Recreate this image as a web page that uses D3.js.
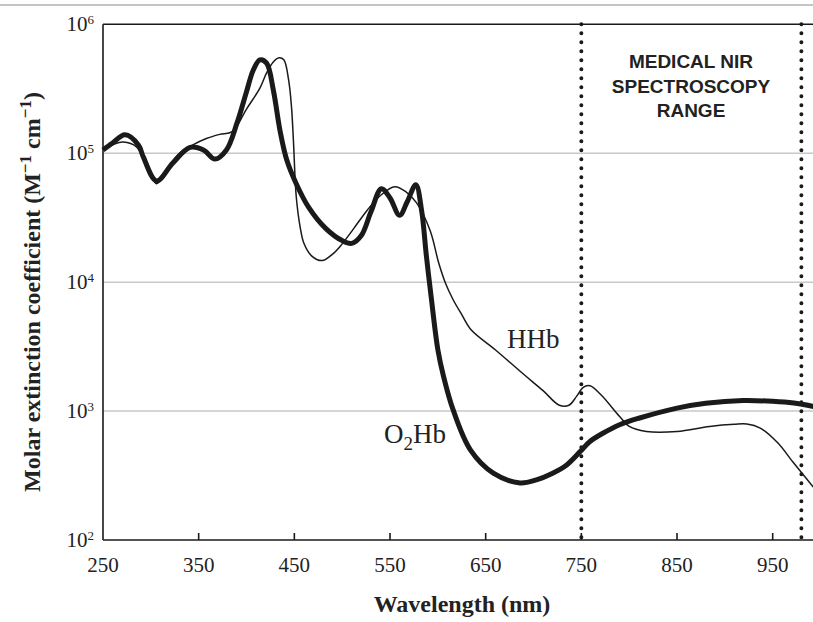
<!DOCTYPE html>
<html>
<head>
<meta charset="utf-8">
<script src="https://cdn.jsdelivr.net/npm/d3@7"></script>
<style>
  body { margin: 0; background: #fff; }
  svg { display: block; }
</style>
</head>
<body>
<div class="svg-container"></div>
<script>
// O2Hb (thick line), wavelength in nm and molar extinction coefficient
const o2hbWl = [250, 260, 273, 287, 292, 306, 323, 341, 355, 367, 379, 390, 400, 407, 414, 421, 428, 435, 442, 452, 465, 483, 500, 510, 520, 530, 541, 550, 560, 568, 577, 583, 588, 593, 600, 606, 616, 634, 658, 686, 703, 720, 735, 749, 759, 773, 790, 810, 850, 880, 919, 950, 972, 1000];
const o2hbVal = [106000, 120000, 139000, 116000, 94000, 61000, 84000, 111000, 106000, 90000, 106000, 171000, 300000, 440000, 530000, 500000, 310000, 150000, 89000, 58000, 38000, 26000, 21000, 20000, 23000, 35000, 53000, 45000, 33000, 42000, 57000, 36000, 16000, 7700, 3000, 1850, 1020, 500, 330, 277, 293, 330, 384, 487, 581, 676, 784, 880, 1055, 1150, 1208, 1190, 1153, 1060];

// HHb (thin line)
const hhbWl = [250, 262, 271, 285, 295, 306, 318, 330, 344, 358, 372, 385, 400, 414, 421, 428, 434, 439, 444, 447, 449, 452, 456, 460, 468, 479, 490, 498, 512, 526, 540, 555, 567, 578, 592, 601, 608, 616, 625, 635, 660, 690, 710, 727, 737, 745, 752, 759, 770, 790, 800, 818, 850, 884, 910, 923, 937, 955, 972, 992, 1000];
const hhbVal = [106000, 118000, 122000, 112000, 82000, 58000, 78000, 100000, 116000, 130000, 140000, 147000, 220000, 320000, 420000, 510000, 550000, 530000, 370000, 230000, 127000, 46000, 27000, 20000, 16000, 14700, 16500, 19000, 26000, 36000, 47000, 55000, 50000, 41000, 25000, 14000, 9800, 7300, 5600, 4250, 2990, 1920, 1440, 1110, 1110, 1300, 1530, 1570, 1350, 908, 760, 695, 695, 760, 790, 793, 738, 570, 395, 260, 220];

const xTicks = [250, 350, 450, 550, 650, 750, 850, 950];
const yExps = [2, 3, 4, 5, 6];
const gridExps = [3, 4, 5];
const nirBounds = [750, 980];

const W = 813, H = 622;
const plotLeft = 103, plotTop = 24.3, plotBottom = 540;

const svg = d3.select('.svg-container')
    .append('svg')
    .attr('width', W)
    .attr('height', H);

const xScale = d3.scaleLinear().domain([250, 1000]).range([plotLeft, plotLeft + 750 * 0.9567]);
const yScale = d3.scaleLog().domain([100, 1e6]).range([plotBottom, plotTop]);

// thin grey rule at the very top of the page
svg.append('line')
    .attr('x1', 0).attr('x2', W).attr('y1', 5).attr('y2', 5)
    .attr('stroke', '#c4c4c4').attr('stroke-width', 2);

// grid lines
svg.selectAll('.grid')
    .data(gridExps).enter().append('line')
    .attr('class', 'grid')
    .attr('x1', plotLeft).attr('x2', W)
    .attr('y1', d => yScale(Math.pow(10, d)))
    .attr('y2', d => yScale(Math.pow(10, d)))
    .attr('stroke', '#c8c8c8').attr('stroke-width', 1.5);

// frame: left, bottom, top
const frame = svg.append('g').attr('stroke', '#1a1a1a').attr('stroke-width', 1.6);
frame.append('line').attr('x1', plotLeft).attr('x2', plotLeft).attr('y1', plotTop).attr('y2', plotBottom);
frame.append('line').attr('x1', plotLeft).attr('x2', W).attr('y1', plotBottom).attr('y2', plotBottom);
frame.append('line').attr('x1', plotLeft).attr('x2', W).attr('y1', plotTop).attr('y2', plotTop);

// x ticks (inward)
svg.selectAll('.xtick')
    .data(xTicks.slice(1)).enter().append('line')
    .attr('class', 'xtick')
    .attr('x1', d => xScale(d)).attr('x2', d => xScale(d))
    .attr('y1', plotBottom).attr('y2', plotBottom - 7)
    .attr('stroke', '#1a1a1a').attr('stroke-width', 1.6);

svg.selectAll('.xlabel')
    .data(xTicks).enter().append('text')
    .attr('class', 'xlabel')
    .attr('x', d => xScale(d))
    .attr('y', 572)
    .attr('text-anchor', 'middle')
    .style('font-family', '"Liberation Serif", "Times New Roman", serif')
    .style('font-size', '21px')
    .attr('fill', '#222')
    .text(d => d);

// y tick labels 10^n
const ylab = svg.selectAll('.ylabel')
    .data(yExps).enter().append('text')
    .attr('class', 'ylabel')
    .attr('x', 94)
    .attr('y', d => yScale(Math.pow(10, d)) + 7)
    .attr('text-anchor', 'end')
    .style('font-family', '"Liberation Serif", "Times New Roman", serif')
    .style('font-size', '21px')
    .attr('fill', '#222');
ylab.append('tspan').text('10');
ylab.append('tspan').attr('dy', -7).style('font-size', '13px').text(d => d);

// NIR range dotted lines
svg.selectAll('.nir')
    .data(nirBounds).enter().append('line')
    .attr('class', 'nir')
    .attr('x1', d => xScale(d)).attr('x2', d => xScale(d))
    .attr('y1', plotTop).attr('y2', plotBottom)
    .attr('stroke', '#1a1a1a').attr('stroke-width', 4)
    .attr('stroke-linecap', 'round')
    .attr('stroke-dasharray', '0,9');

// curves
const line = d3.line()
    .x(d => xScale(d[0]))
    .y(d => yScale(d[1]))
    .curve(d3.curveCatmullRom.alpha(0.5));

svg.append('path')
    .datum(d3.zip(hhbWl, hhbVal))
    .attr('d', line)
    .attr('fill', 'none')
    .attr('stroke', '#1a1a1a')
    .attr('stroke-width', 1.5);

svg.append('path')
    .datum(d3.zip(o2hbWl, o2hbVal))
    .attr('d', line)
    .attr('fill', 'none')
    .attr('stroke', '#1a1a1a')
    .attr('stroke-width', 5)
    .attr('stroke-linejoin', 'round');

// NIR label
const nirText = svg.append('text')
    .attr('text-anchor', 'middle')
    .style('font-family', '"Liberation Sans", Arial, sans-serif')
    .style('font-weight', 'bold')
    .style('font-size', '19px')
    .attr('fill', '#222');
['MEDICAL NIR', 'SPECTROSCOPY', 'RANGE'].forEach(function (t, i) {
    nirText.append('tspan').attr('x', 691).attr('y', 68.3 + i * 24.2).text(t);
});

// curve labels
svg.append('text')
    .attr('x', 507).attr('y', 348)
    .style('font-family', '"Liberation Serif", "Times New Roman", serif')
    .style('font-size', '27px')
    .attr('fill', '#222')
    .text('HHb');

const o2 = svg.append('text')
    .attr('x', 384).attr('y', 443)
    .style('font-family', '"Liberation Serif", "Times New Roman", serif')
    .style('font-size', '27px')
    .attr('fill', '#222');
o2.append('tspan').text('O');
o2.append('tspan').attr('dy', 7).style('font-size', '19px').text('2');
o2.append('tspan').attr('dy', -7).text('Hb');

// axis titles
svg.append('text')
    .attr('x', 462).attr('y', 612)
    .attr('text-anchor', 'middle')
    .style('font-family', '"Liberation Serif", "Times New Roman", serif')
    .style('font-weight', 'bold')
    .style('font-size', '24px')
    .attr('fill', '#222')
    .text('Wavelength (nm)');

const ytitle = svg.append('text')
    .attr('transform', 'translate(40,' + 292 + ') rotate(-90)')
    .attr('text-anchor', 'middle')
    .style('font-family', '"Liberation Serif", "Times New Roman", serif')
    .style('font-weight', 'bold')
    .style('font-size', '24px')
    .attr('fill', '#222');
ytitle.append('tspan').text('Molar extinction coefficient (M');
ytitle.append('tspan').attr('dy', -9).style('font-size', '17px').text('−1');
ytitle.append('tspan').attr('dy', 9).text(' cm');
ytitle.append('tspan').attr('dy', -9).style('font-size', '17px').text('−1');
ytitle.append('tspan').attr('dy', 9).text(')');
</script>
</body>
</html>
